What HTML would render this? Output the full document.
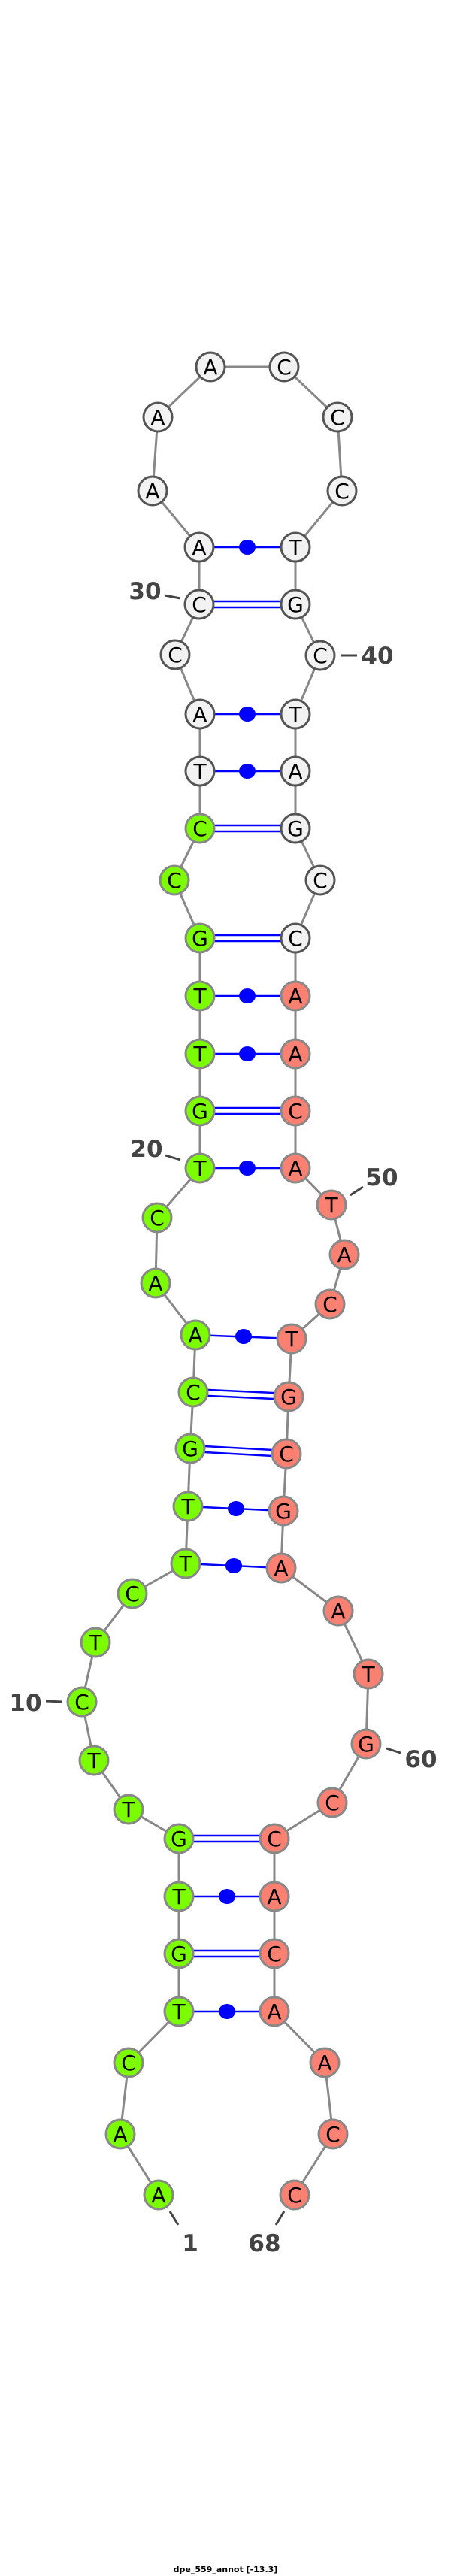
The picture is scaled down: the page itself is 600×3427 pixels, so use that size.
<!DOCTYPE html>
<html><head><meta charset="utf-8"><style>
html,body{margin:0;padding:0;background:#fff;}
svg{display:block;}
.n text{font-family:"DejaVu Sans","Liberation Sans",sans-serif;font-size:28px;text-anchor:middle;fill:#000;}
.lab{font-family:"DejaVu Sans","Liberation Sans",sans-serif;font-weight:bold;font-size:31px;fill:#444;text-anchor:middle;}
</style></head><body>
<svg width="600" height="3427" viewBox="0 0 600 3427" xmlns="http://www.w3.org/2000/svg">
<rect width="600" height="3427" fill="#fff"/>
<!-- backbone -->
<polyline fill="none" stroke="#888" stroke-width="3" points="211,2920 160,2839 171,2744 238,2676 238,2599 238,2523 238,2446 171,2407 125,2342 109,2264 127,2185 176,2120 247,2080 250,2004 253,1927 257,1852 260,1776 207,1707 209,1620 266,1554 266,1478 266,1402 266,1325 266,1248 232,1171 266,1102 266,1026 266,950 233,871 265,804 265,728 203,653 210,555 280,488 378,488 449,555 455,653 393,728 393,804 426,872 393,950 393,1026 393,1102 426,1171 393,1248 393,1325 393,1402 393,1478 393,1554 441,1603 458,1669 439,1735 388,1781 384,1858 381,1934 377,2010 374,2086 450,2143 490,2227 487,2320 442,2398 365,2446 365,2523 365,2599 365,2676 432,2744 443,2839 392,2920"/>
<!-- pair lines -->
<g stroke="#00f" stroke-width="2.5" fill="none">
<line x1="265" y1="728" x2="393" y2="728"/>
<line x1="265" y1="800" x2="393" y2="800"/><line x1="265" y1="808" x2="393" y2="808"/>
<line x1="266" y1="950" x2="393" y2="950"/>
<line x1="266" y1="1026" x2="393" y2="1026"/>
<line x1="266" y1="1098" x2="393" y2="1098"/><line x1="266" y1="1106" x2="393" y2="1106"/>
<line x1="266" y1="1244" x2="393" y2="1244"/><line x1="266" y1="1252" x2="393" y2="1252"/>
<line x1="266" y1="1325" x2="393" y2="1325"/>
<line x1="266" y1="1402" x2="393" y2="1402"/>
<line x1="266" y1="1474" x2="393" y2="1474"/><line x1="266" y1="1482" x2="393" y2="1482"/>
<line x1="266" y1="1554" x2="393" y2="1554"/>
<line x1="260" y1="1776" x2="388" y2="1781"/>
<line x1="257" y1="1848" x2="384" y2="1854"/><line x1="257" y1="1856" x2="384" y2="1862"/>
<line x1="253" y1="1923" x2="381" y2="1930"/><line x1="253" y1="1931" x2="381" y2="1938"/>
<line x1="250" y1="2004" x2="377" y2="2010"/>
<line x1="247" y1="2080" x2="374" y2="2086"/>
<line x1="238" y1="2442" x2="365" y2="2442"/><line x1="238" y1="2450" x2="365" y2="2450"/>
<line x1="238" y1="2523" x2="365" y2="2523"/>
<line x1="238" y1="2595" x2="365" y2="2595"/><line x1="238" y1="2603" x2="365" y2="2603"/>
<line x1="238" y1="2676" x2="365" y2="2676"/>
</g>
<g fill="#00f">
<ellipse cx="329" cy="728" rx="11" ry="10"/>
<ellipse cx="329" cy="950" rx="11" ry="10"/>
<ellipse cx="329" cy="1026" rx="11" ry="10"/>
<ellipse cx="329" cy="1325" rx="11" ry="10"/>
<ellipse cx="329" cy="1402" rx="11" ry="10"/>
<ellipse cx="329" cy="1554" rx="11" ry="10"/>
<ellipse cx="324" cy="1778" rx="11" ry="10"/>
<ellipse cx="314" cy="2007" rx="11" ry="10"/>
<ellipse cx="311" cy="2083" rx="11" ry="10"/>
<ellipse cx="302" cy="2523" rx="11" ry="10"/>
<ellipse cx="302" cy="2676" rx="11" ry="10"/>
</g>
<!-- label ticks -->
<g stroke="#444" stroke-width="3">
<line x1="219" y1="792" x2="240" y2="796"/>
<line x1="453" y1="872" x2="475" y2="872"/>
<line x1="220" y1="1537" x2="240" y2="1543"/>
<line x1="466" y1="1590" x2="483" y2="1579"/>
<line x1="61" y1="2263" x2="83" y2="2264"/>
<line x1="514" y1="2326" x2="533" y2="2332"/>
<line x1="226" y1="2942" x2="237" y2="2960"/>
<line x1="378" y1="2942" x2="367" y2="2960"/>
</g>
<g class="lab">
<text x="193" y="797">30</text>
<text x="502" y="883">40</text>
<text x="195" y="1539">20</text>
<text x="508" y="1577">50</text>
<text x="34" y="2276">10</text>
<text x="560" y="2351">60</text>
<text x="253" y="2995">1</text>
<text x="352" y="2995">68</text>
</g>
<!-- nodes -->
<g class="n">
<g stroke="#888" stroke-width="3" fill="#7cfc00">
<circle cx="211" cy="2920" r="19"/><circle cx="160" cy="2839" r="19"/><circle cx="171" cy="2744" r="19"/><circle cx="238" cy="2676" r="19"/><circle cx="238" cy="2599" r="19"/><circle cx="238" cy="2523" r="19"/><circle cx="238" cy="2446" r="19"/><circle cx="171" cy="2407" r="19"/><circle cx="125" cy="2342" r="19"/><circle cx="109" cy="2264" r="19"/><circle cx="127" cy="2185" r="19"/><circle cx="176" cy="2120" r="19"/><circle cx="247" cy="2080" r="19"/><circle cx="250" cy="2004" r="19"/><circle cx="253" cy="1927" r="19"/><circle cx="257" cy="1852" r="19"/><circle cx="260" cy="1776" r="19"/><circle cx="207" cy="1707" r="19"/><circle cx="209" cy="1620" r="19"/><circle cx="266" cy="1554" r="19"/><circle cx="266" cy="1478" r="19"/><circle cx="266" cy="1402" r="19"/><circle cx="266" cy="1325" r="19"/><circle cx="266" cy="1248" r="19"/><circle cx="232" cy="1171" r="19"/><circle cx="266" cy="1102" r="19"/>
</g>
<g stroke="#555" stroke-width="3" fill="#f2f2f2">
<circle cx="266" cy="1026" r="19"/><circle cx="266" cy="950" r="19"/><circle cx="233" cy="871" r="19"/><circle cx="265" cy="804" r="19"/><circle cx="265" cy="728" r="19"/><circle cx="203" cy="653" r="19"/><circle cx="210" cy="555" r="19"/><circle cx="280" cy="488" r="19"/><circle cx="378" cy="488" r="19"/><circle cx="449" cy="555" r="19"/><circle cx="455" cy="653" r="19"/><circle cx="393" cy="728" r="19"/><circle cx="393" cy="804" r="19"/><circle cx="426" cy="872" r="19"/><circle cx="393" cy="950" r="19"/><circle cx="393" cy="1026" r="19"/><circle cx="393" cy="1102" r="19"/><circle cx="426" cy="1171" r="19"/><circle cx="393" cy="1248" r="19"/>
</g>
<g stroke="#888" stroke-width="3" fill="#fa8072">
<circle cx="393" cy="1325" r="19"/><circle cx="393" cy="1402" r="19"/><circle cx="393" cy="1478" r="19"/><circle cx="393" cy="1554" r="19"/><circle cx="441" cy="1603" r="19"/><circle cx="458" cy="1669" r="19"/><circle cx="439" cy="1735" r="19"/><circle cx="388" cy="1781" r="19"/><circle cx="384" cy="1858" r="19"/><circle cx="381" cy="1934" r="19"/><circle cx="377" cy="2010" r="19"/><circle cx="374" cy="2086" r="19"/><circle cx="450" cy="2143" r="19"/><circle cx="490" cy="2227" r="19"/><circle cx="487" cy="2320" r="19"/><circle cx="442" cy="2398" r="19"/><circle cx="365" cy="2446" r="19"/><circle cx="365" cy="2523" r="19"/><circle cx="365" cy="2599" r="19"/><circle cx="365" cy="2676" r="19"/><circle cx="432" cy="2744" r="19"/><circle cx="443" cy="2839" r="19"/><circle cx="392" cy="2920" r="19"/>
</g>
<g transform="translate(0,10)">
<text x="211" y="2920">A</text><text x="160" y="2839">A</text><text x="171" y="2744">C</text><text x="238" y="2676">T</text><text x="238" y="2599">G</text><text x="238" y="2523">T</text><text x="238" y="2446">G</text><text x="171" y="2407">T</text><text x="125" y="2342">T</text><text x="109" y="2264">C</text><text x="127" y="2185">T</text><text x="176" y="2120">C</text><text x="247" y="2080">T</text><text x="250" y="2004">T</text><text x="253" y="1927">G</text><text x="257" y="1852">C</text><text x="260" y="1776">A</text><text x="207" y="1707">A</text><text x="209" y="1620">C</text><text x="266" y="1554">T</text><text x="266" y="1478">G</text><text x="266" y="1402">T</text><text x="266" y="1325">T</text><text x="266" y="1248">G</text><text x="232" y="1171">C</text><text x="266" y="1102">C</text>
<text x="266" y="1026">T</text><text x="266" y="950">A</text><text x="233" y="871">C</text><text x="265" y="804">C</text><text x="265" y="728">A</text><text x="203" y="653">A</text><text x="210" y="555">A</text><text x="280" y="488">A</text><text x="378" y="488">C</text><text x="449" y="555">C</text><text x="455" y="653">C</text><text x="393" y="728">T</text><text x="393" y="804">G</text><text x="426" y="872">C</text><text x="393" y="950">T</text><text x="393" y="1026">A</text><text x="393" y="1102">G</text><text x="426" y="1171">C</text><text x="393" y="1248">C</text>
<text x="393" y="1325">A</text><text x="393" y="1402">A</text><text x="393" y="1478">C</text><text x="393" y="1554">A</text><text x="441" y="1603">T</text><text x="458" y="1669">A</text><text x="439" y="1735">C</text><text x="388" y="1781">T</text><text x="384" y="1858">G</text><text x="381" y="1934">C</text><text x="377" y="2010">G</text><text x="374" y="2086">A</text><text x="450" y="2143">A</text><text x="490" y="2227">T</text><text x="487" y="2320">G</text><text x="442" y="2398">C</text><text x="365" y="2446">C</text><text x="365" y="2523">A</text><text x="365" y="2599">C</text><text x="365" y="2676">A</text><text x="432" y="2744">A</text><text x="443" y="2839">C</text><text x="392" y="2920">C</text>
</g>
</g>
<text x="300" y="3422" font-family="'DejaVu Sans','Liberation Sans',sans-serif" font-weight="bold" font-size="11" text-anchor="middle" fill="#000">dpe_559_annot [-13.3]</text>
</svg>
</body></html>
